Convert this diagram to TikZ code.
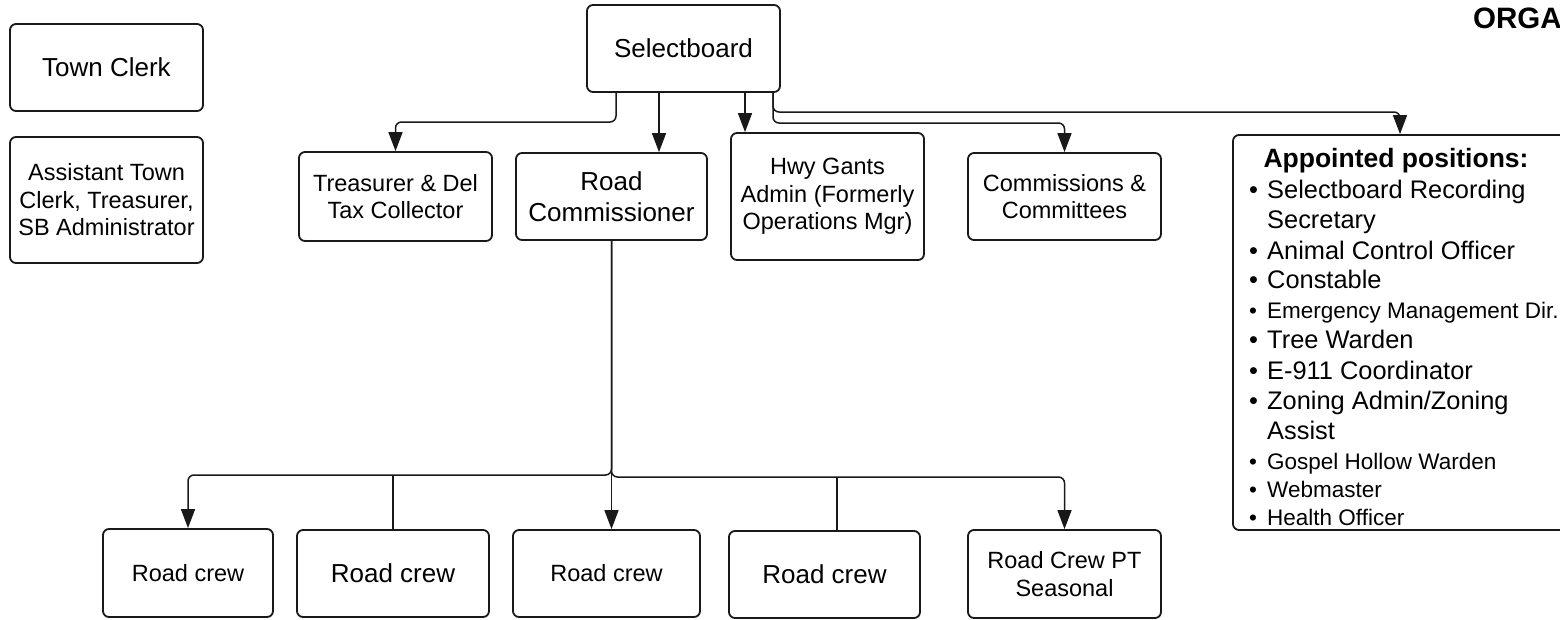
\documentclass[tikz,border=0pt]{standalone}
\usepackage{fontspec}
\setmainfont{Liberation Sans}
\usetikzlibrary{arrows.meta}
\newcommand{\fbig}{\fontsize{26}{31}\selectfont}
\newcommand{\fsml}{\fontsize{23.5}{27.5}\selectfont}
\newcommand{\flist}{\fontsize{25.4}{28}\selectfont}
\newcommand{\flistsm}{\fontsize{22.5}{26}\selectfont}
\newcommand{\bul}{\makebox[18pt][l]{•}}
\begin{document}
\begin{tikzpicture}[x=1pt,y=-1pt,
  box/.style={draw=black!90, line width=1.8pt, rounded corners=6pt, align=center, inner sep=0pt},
  conn/.style={draw=black!90, line width=1.5pt, rounded corners=6pt},
  arr/.style={conn, -{Triangle[length=19pt,width=14pt]}},
  li/.style={anchor=base west, inner sep=0pt}]
\useasboundingbox (0,0) rectangle (1560,619);
\fill[white] (0,0) rectangle (1560,619);

% nodes
\node[box, minimum width=193, minimum height=87, font=\fbig] (tc) at (106.5,67.5) {Town Clerk};
\node[box, minimum width=193, minimum height=126, font=\fsml] (atc) at (106.5,200) {Assistant Town\\Clerk, Treasurer,\\SB Administrator};
\node[box, minimum width=193, minimum height=87, font=\fbig] (sb) at (683.5,48.5) {Selectboard};
\node[box, minimum width=193, minimum height=89, font=\fsml] (tr) at (395.5,196.5) {Treasurer \& Del\\Tax Collector};
\node[box, minimum width=191, minimum height=87, font=\fbig] (rc) at (611.5,196.5) {Road\\Commissioner};
\node[box, minimum width=193, minimum height=127, font=\fsml] (hwy) at (827.5,196.5) {Hwy Gants\\Admin (Formerly\\Operations Mgr)};
\node[box, minimum width=193, minimum height=87, font=\fsml] (cc) at (1064.5,196.5) {Commissions \&\\Committees};
\node[box, minimum width=342, minimum height=395] (appt) at (1404,332.5) {};

\node[box, minimum width=170, minimum height=88, font=\fsml] (rc1) at (188,573) {Road crew};
\node[box, minimum width=192, minimum height=87, font=\fbig] (rc2) at (393,573.5) {Road crew};
\node[box, minimum width=187, minimum height=87, font=\fsml] (rc3) at (606.5,573.5) {Road crew};
\node[box, minimum width=191, minimum height=87, font=\fbig] (rc4) at (824.5,574.5) {Road crew};
\node[box, minimum width=193, minimum height=88, font=\fsml] (pt) at (1064.5,574) {Road Crew PT\\Seasonal};

% title
\node[anchor=base west, inner sep=0pt, font=\fontsize{29.5}{31}\selectfont\bfseries] (title) at (1473,28) {ORGA};

% appointed list
\node[anchor=base, inner sep=0pt, font=\fontsize{26.5}{30}\selectfont\bfseries] (ah) at (1396,167) {Appointed positions:};
\node[li, font=\flist] (a1) at (1249,198) {\bul Selectboard Recording};
\node[li, font=\flist] (a1b) at (1267,228) {Secretary};
\node[li, font=\flist] (a2) at (1249,259) {\bul Animal Control Officer};
\node[li, font=\flist] (a3) at (1249,288) {\bul Constable};
\node[li, font=\flistsm] (a4) at (1249,318) {\bul Emergency Management Dir.};
\node[li, font=\flist] (a5) at (1249,348) {\bul Tree Warden};
\node[li, font=\flist] (a6) at (1249,379) {\bul E-911 Coordinator};
\node[li, font=\flist] (a7) at (1249,409) {\bul Zoning Admin/Zoning};
\node[li, font=\flist] (a7b) at (1267,439) {Assist};
\node[li, font=\flistsm] (a8) at (1249,469) {\bul Gospel Hollow Warden};
\node[li, font=\flistsm] (a9) at (1249,497) {\bul Webmaster};
\node[li, font=\flistsm] (a10) at (1249,525) {\bul Health Officer};

% connectors from Selectboard
\draw[arr] (sb.south -| 616,0) -- (616,122) -| (tr.north);
\draw[arr] (sb.south -| 659,0) -- (rc.north -| 659,0);
\draw[arr] (sb.south -| 745,0) -- (hwy.north -| 745,0);
\draw[arr] (sb.south -| 773,0) -- (773,123) -| (cc.north);
\draw[arr] (sb.south -| 773,0) -- (773,112) -| (appt.north -| 1400,0);

% connectors from Road Commissioner
\coordinate (busL) at (611.5,475);
\coordinate (busR) at (611.5,477);
\draw[arr] (rc.south) -- (busL) -| (rc1.north);
\draw[arr] (rc.south) -- (busR) -| (pt.north);
\draw[arr] (rc.south) -- (rc3.north -| rc.south);
\draw[conn] (rc2.north) -- (rc2.north |- busL);
\draw[conn] (rc4.north -| 837,0) -- (837,477);
\end{tikzpicture}
\end{document}
